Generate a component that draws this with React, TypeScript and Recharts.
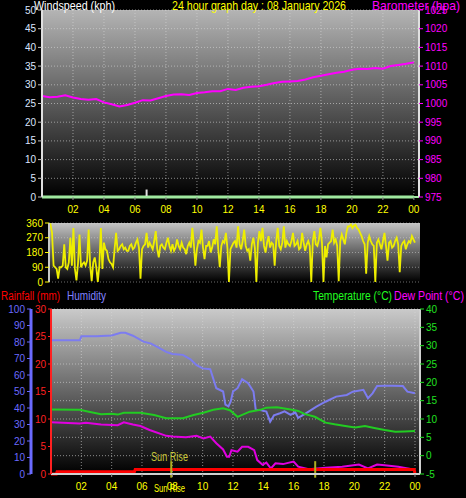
import { LineChart, Line, XAxis, YAxis, CartesianGrid, ReferenceLine } from "recharts"

// hours 0..24, one pressure reading each half hour
const baroValues = [
  1002.0, 1001.7, 1001.8, 1002.2, 1001.6, 1001.2, 1001.0, 1001.2, 1000.3, 999.8,
  999.2, 999.6, 1000.2, 1000.9, 1000.8, 1001.4, 1002.0, 1002.4, 1002.5, 1002.3,
  1002.8, 1003.0, 1003.3, 1003.3, 1003.9, 1003.6, 1004.2, 1004.5, 1004.6, 1005.0,
  1005.5, 1005.8, 1005.9, 1006.0, 1006.4, 1007.0, 1007.4, 1007.8, 1008.2, 1008.5,
  1009.0, 1009.3, 1009.2, 1009.5, 1009.3, 1010.0, 1010.3, 1010.6, 1011.0,
]
const windSpeedHours = [0, 24]
const windSpeedValues = [0, 0]
const gustHour = 6.75
const gustValue = 2

// wind direction every 0.1 h (one row = 2 hours)
const windDirValues = [
  340, 350, 300, 100, 90, 80, 20, 90, 90, 100, 230, 90, 80, 120, 270, 100, 330, 80, 10, 110,
  290, 90, 110, 120, 100, 130, 320, 100, 5, 120, 150, 90, 0, 100, 330, 80, 240, 200, 190, 140,
  120, 110, 90, 200, 300, 190, 200, 220, 230, 200, 210, 190, 190, 220, 230, 200, 210, 240, 260, 210,
  20, 200, 220, 230, 300, 210, 240, 220, 200, 250, 310, 200, 150, 220, 230, 210, 200, 240, 270, 220,
  190, 230, 190, 210, 260, 220, 200, 240, 210, 200, 170, 220, 240, 210, 330, 230, 100, 200, 250, 240,
  320, 210, 140, 220, 220, 250, 180, 210, 260, 230, 340, 200, 90, 220, 250, 240, 300, 210, 0, 200,
  220, 240, 250, 210, 340, 230, 200, 250, 320, 220, 190, 200, 130, 230, 270, 210, 0, 240, 310, 250,
  330, 220, 180, 240, 280, 210, 240, 230, 100, 250, 330, 220, 200, 240, 340, 210, 250, 230, 220, 250,
  300, 220, 230, 250, 200, 210, 300, 240, 190, 230, 250, 220, 0, 250, 310, 230, 220, 260, 330, 240,
  0, 220, 150, 230, 240, 250, 320, 240, 260, 220, 5, 250, 290, 260, 230, 300, 340, 340, 350, 330,
  345, 350, 330, 320, 300, 280, 250, 230, 50, 240, 280, 250, 230, 220, 0, 240, 260, 230, 200, 250,
  300, 220, 130, 240, 250, 210, 220, 250, 270, 230, 60, 220, 240, 250, 200, 230, 250, 240, 280, 260,
  240,
]

const humHours = [0, 1.9, 2.0, 3.0, 4.0, 4.6, 4.9, 5.4, 6.1, 6.6, 7.0, 7.6, 8.0, 8.7, 9.2, 9.6, 10.0, 10.5, 10.9, 11.35, 11.5, 11.7, 11.85, 12.0, 12.3, 12.6, 13.0, 13.35, 13.5, 13.8, 14.2, 14.45, 14.7, 15.1, 15.4, 15.8, 16.1, 16.3, 16.8, 17.5, 18.1, 18.8, 19.5, 19.9, 20.6, 20.9, 21.2, 21.5, 22.0, 22.5, 23.2, 23.5, 24.0]
const humValues = [81, 81, 83.5, 83.5, 84, 85.6, 85.6, 83.8, 80.2, 79, 77, 74, 72.7, 72.2, 69.5, 66, 64, 63.5, 52, 50, 42, 41, 44, 50, 52, 57.4, 55, 50, 38.8, 38.8, 37.8, 31.7, 35.5, 36.8, 38, 35.8, 37.5, 34, 36.8, 40.8, 43.8, 46.9, 47.9, 49.9, 51, 45.9, 48.9, 53.3, 53.5, 53.5, 53.3, 49.9, 49]

const tempHours = [0, 1.9, 2.5, 3.3, 4.0, 4.4, 4.8, 5.9, 6.8, 7.6, 8.7, 9.4, 10.05, 10.7, 11.35, 11.8, 12.3, 13.1, 13.8, 14.2, 14.9, 15.8, 16.3, 16.7, 17.4, 18.1, 18.7, 19.4, 20.05, 20.7, 21.4, 22.0, 22.7, 23.3, 24]
const tempValues = [12.6, 12.5, 12.0, 11.3, 11.4, 11.2, 11.7, 11.7, 11.1, 10.2, 10.2, 11.1, 11.7, 12.5, 12.9, 12.4, 10.6, 12, 12.5, 13.1, 13.2, 12.6, 12.2, 11.4, 10.6, 9.0, 8.55, 8.1, 7.7, 8.1, 7.5, 7.0, 6.5, 6.6, 6.7]

const dewHours = [0, 1.9, 2.3, 3.3, 4.4, 4.8, 5.4, 5.9, 6.5, 7.6, 8.0, 8.9, 9.6, 10.05, 10.5, 10.9, 11.35, 11.6, 11.75, 11.9, 12.3, 12.6, 13.0, 13.4, 13.6, 13.95, 14.2, 14.5, 14.8, 15.3, 15.7, 16.0, 16.3, 17.0, 18.1, 19.2, 20.3, 20.9, 21.5, 22.0, 22.9, 23.8, 24]
const dewValues = [9.1, 8.8, 9.0, 8.5, 8.3, 9.1, 8.5, 8.1, 7.0, 5.4, 5.2, 5.0, 5.4, 4.7, 5.2, 3.4, 1.7, -0.3, -0.3, 1.5, 1.1, 2.4, 2.4, 1.5, -1.2, -2.5, -1.9, -3.5, -2.1, -2.3, -1.9, -1.6, -3.0, -3.7, -3.3, -3.0, -2.4, -3.5, -2.4, -2.6, -3.0, -3.7, -3.8]

const rainHours = [0, 0.35, 0.4, 5.5, 5.55, 23.95, 24]
const rainValues = [0, 0, 0.4, 0.4, 0.8, 0.8, 0]

const sunRise = 7.93
const sunSet = 17.42

const hourTicks = [2, 4, 6, 8, 10, 12, 14, 16, 18, 20, 22, 24]
const windTicks = [0, 5, 10, 15, 20, 25, 30, 35, 40, 45, 50]
const baroTicks = [975, 980, 985, 990, 995, 1000, 1005, 1010, 1015, 1020, 1025]
const dirTicks = [0, 90, 180, 270, 360]
const dirLetters = ["N", "E", "S", "W", "N"]
const humTicks = [0, 10, 20, 30, 40, 50, 60, 70, 80, 90, 100]
const rainTicks = [0, 5, 10, 15, 20, 25, 30]
const tempTicks = [-5, 0, 5, 10, 15, 20, 25, 30, 35, 40]

const FONT = "'Liberation Sans', Arial, sans-serif"
const X_DOMAIN: [number, number] = [0, 24.33]
const fmtHour = (h: number) => String(h % 24).padStart(2, "0")

const zip = (hours: number[], values: number[]) => hours.map((hour, i) => ({ hour, v: values[i] }))
const baroData = baroValues.map((v, i) => ({ hour: i * 0.5, v }))
const dirData = windDirValues.map((v, i) => ({ hour: i * 0.1, v }))

function Bg({ id, top }: { id: string; top: string }) {
  return (
    <defs>
      <linearGradient id={id} x1="0" y1="0" x2="0" y2="1">
        <stop offset="0%" stopColor={top} />
        <stop offset="100%" stopColor="#000000" />
      </linearGradient>
    </defs>
  )
}

// text squeezed to the width it takes in the original
function Label({ x, y, w, color, size = 12, children }: { x: number; y: number; w: number; color: string; size?: number; children: string }) {
  return (
    <text x={x} y={y} fill={color} fontSize={size} fontFamily={FONT} textLength={w} lengthAdjust="spacingAndGlyphs">
      {children}
    </text>
  )
}

export default function App() {
  return (
    <div style={{ position: "fixed", left: 0, top: 0, width: 466, height: 498, background: "#000", overflow: "hidden" }}>
      {/* top panel: wind speed + barometer */}
      <div style={{ position: "absolute", left: 0, top: 0 }}>
        <LineChart width={466} height={220} margin={{ top: 10, right: 0, bottom: 0, left: 0 }} style={{ fontFamily: FONT }}>
          <Bg id="bgTop" top="#b4b4b4" />
          <CartesianGrid fill="url(#bgTop)" stroke="#d8d8d8" strokeDasharray="1 2" strokeOpacity={0.6} yAxisId="wind" />
          <XAxis type="number" dataKey="hour" domain={X_DOMAIN} ticks={hourTicks} tickFormatter={fmtHour} height={23}
            tick={{ fill: "#ffff00", fontSize: 10 }} axisLine={{ stroke: "#a0e8a0", strokeWidth: 2 }} tickLine={{ stroke: "#909090" }} tickSize={3} tickMargin={6} />
          <YAxis yAxisId="wind" width={42} domain={[0, 50]} ticks={windTicks} interval={0}
            tick={{ fill: "#dde6ff", fontSize: 10 }} axisLine={{ stroke: "#e0e0e0", strokeWidth: 2 }} tickLine={{ stroke: "#c0c0c0" }} tickSize={4} />
          <YAxis yAxisId="baro" orientation="right" width={47} domain={[975, 1025]} ticks={baroTicks} interval={0}
            tick={{ fill: "#ff00ff", fontSize: 10 }} axisLine={{ stroke: "#e0e0e0", strokeWidth: 2 }} tickLine={{ stroke: "#ff00ff" }} tickSize={4} />
          <Line yAxisId="wind" data={zip(windSpeedHours, windSpeedValues)} dataKey="v" stroke="#a0f0a0" strokeWidth={3} dot={false} isAnimationActive={false} />
          <ReferenceLine yAxisId="wind" segment={[{ x: gustHour, y: 0 }, { x: gustHour, y: gustValue }]} stroke="#e0e0e0" strokeWidth={2} />
          <Line yAxisId="baro" data={baroData} dataKey="v" stroke="#ff00ff" strokeWidth={2} dot={false} isAnimationActive={false} />
        </LineChart>
      </div>

      {/* middle panel: wind direction */}
      <div style={{ position: "absolute", left: 0, top: 213 }}>
        <LineChart width={466} height={75} margin={{ top: 10, right: 0, bottom: 6, left: 0 }} style={{ fontFamily: FONT }}>
          <Bg id="bgMid" top="#c4c4c4" />
          <CartesianGrid fill="url(#bgMid)" stroke="#d8d8d8" strokeDasharray="1 2" strokeOpacity={0.5} vertical={false} yAxisId="dir" />
          <XAxis type="number" dataKey="hour" domain={X_DOMAIN} hide />
          <YAxis yAxisId="dir" width={49} domain={[0, 360]} ticks={dirTicks} interval={0}
            tick={{ fill: "#ffff00", fontSize: 10 }} axisLine={{ stroke: "#c8c8c8", strokeWidth: 2 }} tickLine={{ stroke: "#ffff00" }} tickSize={4} />
          <YAxis yAxisId="letters" orientation="right" width={46} domain={[0, 360]} ticks={dirTicks} interval={0}
            tickFormatter={(v: number) => dirLetters[dirTicks.indexOf(v)]} axisLine={false} tickLine={false} tickMargin={14}
            tick={{ fill: "#ffff00", fontSize: 13 }} />
          <Line yAxisId="dir" data={dirData} dataKey="v" stroke="#eeee00" strokeWidth={1.8} dot={false} isAnimationActive={false} />
        </LineChart>
      </div>

      {/* bottom panel: rain, humidity, temperature, dew point */}
      <div style={{ position: "absolute", left: 0, top: 299 }}>
        <LineChart width={466} height={199} margin={{ top: 10, right: 0, bottom: 0, left: 11 }} style={{ fontFamily: FONT }}>
          <Bg id="bgBot" top="#cacaca" />
          <CartesianGrid fill="url(#bgBot)" stroke="#d8d8d8" strokeDasharray="1 2" strokeOpacity={0.6} yAxisId="c-temp" />
          <XAxis type="number" dataKey="hour" domain={X_DOMAIN} ticks={hourTicks} tickFormatter={fmtHour} height={24}
            tick={{ fill: "#ffff00", fontSize: 10 }} axisLine={{ stroke: "#d0d0d0", strokeWidth: 2 }} tickLine={{ stroke: "#909090" }} tickSize={3} tickMargin={6} />
          <YAxis yAxisId="a-rain" width={20} domain={[0, 30]} ticks={rainTicks} interval={0}
            tick={{ fill: "#ff2020", fontSize: 10 }} axisLine={{ stroke: "#ff2020", strokeWidth: 2 }} tickLine={{ stroke: "#ff2020" }} tickSize={3} tickMargin={2} />
          <YAxis yAxisId="b-hum" width={20} domain={[0, 100]} ticks={humTicks} interval={0}
            tick={{ fill: "#6a6aff", fontSize: 10 }} axisLine={{ stroke: "#6a6aff", strokeWidth: 3 }} tickLine={{ stroke: "#6a6aff" }} tickSize={4} tickMargin={2} />
          <YAxis yAxisId="c-temp" orientation="right" width={46} domain={[-5, 40]} ticks={tempTicks} interval={0}
            tick={{ fill: "#20e020", fontSize: 10 }} axisLine={{ stroke: "#d0d0d0", strokeWidth: 2 }} tickLine={{ stroke: "#20e020" }} tickSize={4} />
          <Line yAxisId="b-hum" data={zip(humHours, humValues)} dataKey="v" stroke="#7c7cf0" strokeWidth={2} dot={false} isAnimationActive={false} />
          <Line yAxisId="c-temp" data={zip(tempHours, tempValues)} dataKey="v" stroke="#22cc22" strokeWidth={2} dot={false} isAnimationActive={false} />
          <Line yAxisId="c-temp" data={zip(dewHours, dewValues)} dataKey="v" stroke="#e000e0" strokeWidth={2} dot={false} isAnimationActive={false} />
          <Line yAxisId="a-rain" data={zip(rainHours, rainValues)} dataKey="v" stroke="#ff0000" strokeWidth={3} dot={false} isAnimationActive={false} />
          <ReferenceLine yAxisId="c-temp" ifOverflow="visible" segment={[{ x: sunRise, y: -6 }, { x: sunRise, y: -1.5 }]} stroke="#b0b020" strokeWidth={2} />
          <ReferenceLine yAxisId="c-temp" ifOverflow="visible" segment={[{ x: sunSet, y: -6 }, { x: sunSet, y: -1.5 }]} stroke="#b0b020" strokeWidth={2} />
        </LineChart>
      </div>

      {/* titles and legends */}
      <svg width={466} height={498} style={{ position: "absolute", left: 0, top: 0, pointerEvents: "none" }}>
        <Label x={34} y={10} w={81} color="#ffffff" size={13}>Windspeed (kph)</Label>
        <Label x={172} y={10} w={174} color="#ffff00" size={13}>24 hour graph day : 08 January 2026</Label>
        <Label x={372} y={10} w={88} color="#ff00ff" size={13}>Barometer (hpa)</Label>
        <Label x={1} y={300} w={59} color="#ff0000">Rainfall (mm)</Label>
        <Label x={67} y={300} w={39} color="#8080ff">Humidity</Label>
        <Label x={313} y={300} w={79} color="#20ff20">Temperature (°C)</Label>
        <Label x={394} y={300} w={70} color="#ff00ff">Dew Point (°C)</Label>
        <Label x={151} y={461} w={37} color="#c8c83c">Sun Rise</Label>
        <Label x={154} y={492} w={31} color="#ffff00" size={10}>Sun Rise</Label>
      </svg>
    </div>
  )
}
